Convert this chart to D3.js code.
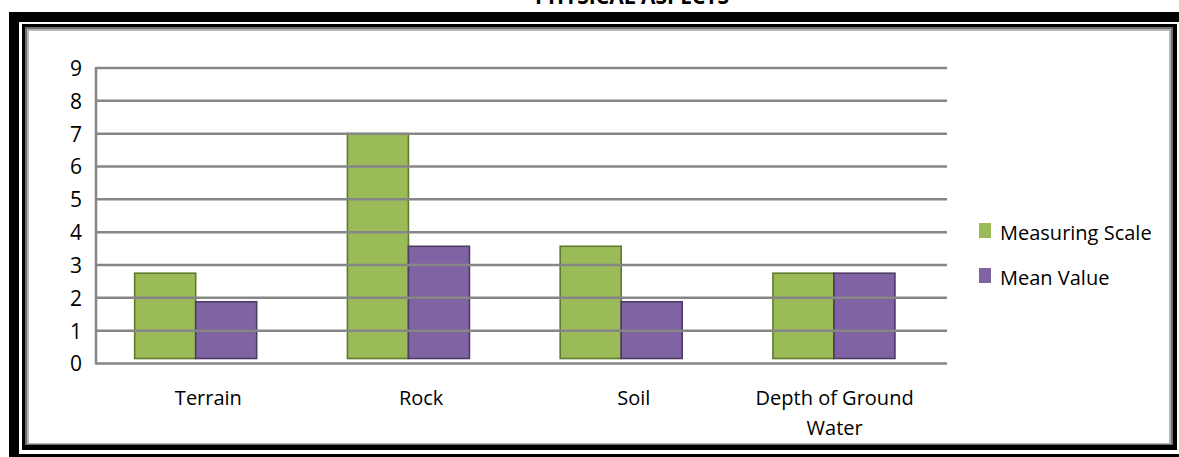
<!DOCTYPE html>
<html>
<head>
<meta charset="utf-8">
<script src="https://cdn.jsdelivr.net/npm/d3@7"></script>
<style>
  html, body { margin: 0; padding: 0; background: #fff; }
  svg { display: block; }
  text { font-family: "Open Sans", "Noto Sans", sans-serif; fill: #000; }
</style>
</head>
<body>
<svg id="chart" width="1179" height="457"></svg>
<script>
const title = "PHYSICAL ASPECTS";
const categories = ["Terrain", "Rock", "Soil", "Depth of Ground Water"];
const seriesNames = ["Measuring Scale", "Mean Value"];
const measuringScale = [2.75, 7, 3.57, 2.75];
const meanValue = [1.88, 3.57, 1.88, 2.75];
const yTicks = [0, 1, 2, 3, 4, 5, 6, 7, 8, 9];
const colors = ["#9BBB59", "#8064A2"];
const strokeColors = ["#5f7a2e", "#4d3a66"];

const seriesValues = [measuringScale, meanValue];

const svg = d3.select("#chart");
const W = 1179, H = 457;

// ---- frame ----
svg.append("rect").attr("x", 9).attr("y", 12).attr("width", W + 20).attr("height", H + 20).attr("fill", "#000");
svg.append("rect").attr("x", 19).attr("y", 22).attr("width", W).attr("height", 432).attr("fill", "#fff");
svg.append("rect").attr("x", 22).attr("y", 24).attr("width", 1155).attr("height", 426).attr("fill", "#000");
svg.append("rect").attr("x", 25).attr("y", 27).attr("width", 1148).attr("height", 418).attr("fill", "#6e6e6e");
svg.append("rect").attr("x", 27).attr("y", 29).attr("width", 1144).attr("height", 415).attr("fill", "#b5b5b5");
svg.append("rect").attr("x", 29).attr("y", 31).attr("width", 1140).attr("height", 412).attr("fill", "#fff");

// ---- title (mostly cut off at top, as in the reference) ----
svg.append("text")
  .attr("x", 632).attr("y", 3.5)
  .attr("text-anchor", "middle")
  .style("font-weight", "bold")
  .style("font-size", "21px")
  .text(title);

// ---- scales ----
const plotLeft = 96, plotRight = 947, plotTop = 68, plotBottom = 363.5;
const x = d3.scaleBand().domain(categories).range([plotLeft, plotRight]).padding(0);
const bw = x.bandwidth();
const groupShift = -6.7;
const x1 = d3.scaleBand().domain(seriesNames)
  .range([bw * 0.2133 + groupShift, bw * 0.7867 + groupShift]).padding(0);
const y = d3.scaleLinear().domain([0, 9]).range([plotBottom, plotTop]);

// ---- bars ----
const defs = svg.append("defs");
const f = defs.append("filter").attr("id", "soft").attr("x", "-10%").attr("y", "-10%").attr("width", "120%").attr("height", "120%");
f.append("feGaussianBlur").attr("stdDeviation", 0.6);

const baseLift = 5;
const barData = [];
categories.forEach((c, i) => {
  seriesNames.forEach((s, j) => {
    barData.push({ c, s, j, v: seriesValues[j][i] });
  });
});

const gBars = svg.append("g");
gBars.selectAll("rect.bar")
  .data(barData)
  .join("rect")
  .attr("class", "bar")
  .attr("x", d => x(d.c) + x1(d.s))
  .attr("y", d => y(d.v))
  .attr("width", x1.bandwidth())
  .attr("height", d => y(0) - baseLift - y(d.v))
  .attr("fill", d => colors[d.j])
  .attr("stroke", d => strokeColors[d.j])
  .attr("stroke-width", 1.6)
  .attr("filter", "url(#soft)");

// ---- gridlines (drawn over bars) ----
svg.append("g").selectAll("line.grid")
  .data(yTicks)
  .join("line")
  .attr("x1", plotLeft).attr("x2", plotRight)
  .attr("y1", d => y(d)).attr("y2", d => y(d))
  .attr("stroke", "#868686")
  .attr("stroke-width", 2.5);

svg.append("line")
  .attr("x1", plotLeft).attr("x2", plotLeft)
  .attr("y1", y(9) - 1).attr("y2", y(0) + 1)
  .attr("stroke", "#868686").attr("stroke-width", 2.5);

// ---- y tick labels ----
svg.append("g").selectAll("text.ytick")
  .data(yTicks)
  .join("text")
  .attr("x", 82)
  .attr("y", d => y(d))
  .attr("dy", "0.38em")
  .attr("text-anchor", "end")
  .style("font-size", "21px")
  .text(d => d);

// ---- category labels (wrapped) ----
const catFont = 20;
const gCat = svg.append("g");
categories.forEach(c => {
  const t = gCat.append("text")
    .attr("text-anchor", "middle")
    .style("font-size", catFont + "px");
  const words = c.split(" ");
  let lines = [], line = [];
  const tmp = svg.append("text").style("font-size", catFont + "px");
  words.forEach(w => {
    line.push(w);
    tmp.text(line.join(" "));
    if (tmp.node().getComputedTextLength() > 175 && line.length > 1) {
      line.pop();
      lines.push(line.join(" "));
      line = [w];
    }
  });
  lines.push(line.join(" "));
  tmp.remove();
  const cx = x(c) + bw / 2 + (lines.length > 1 ? -6 : 6);
  lines.forEach((l, k) => {
    t.append("tspan").attr("x", cx).attr("y", 405 + k * 30).text(l);
  });
});

// ---- legend ----
const legend = svg.append("g");
seriesNames.forEach((s, j) => {
  const ly = 240 + j * 45;
  legend.append("rect")
    .attr("x", 979).attr("y", ly - 17)
    .attr("width", 12).attr("height", 15)
    .attr("fill", colors[j]);
  legend.append("text")
    .attr("x", 1000).attr("y", ly)
    .style("font-size", "20px")
    .text(s);
});
</script>
</body>
</html>
